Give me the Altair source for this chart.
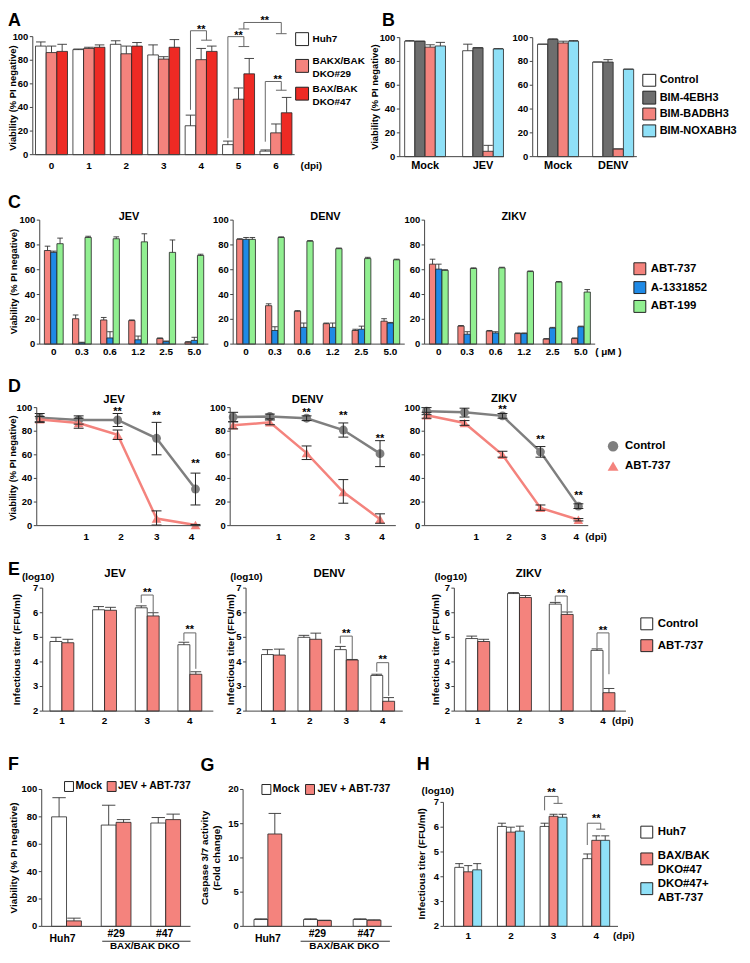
import altair as alt
import pandas as pd

FONT = "Liberation Sans"
ONE = pd.DataFrame({"k": [0]})
W, H = 740, 947
OX, OY = 8, 8

WHITE = "#ffffff"
SALMON = "#f4837d"
RED = "#ee2a24"
DGRAY = "#6e6e6e"
CYAN = "#8fe0f7"
BLUE = "#1f8ae6"
GREEN = "#91ef91"
LGRAY = "#7f7f7f"
AXC = "#444444"

# ---------------- Panel A ----------------
A_dpi = [0, 1, 2, 3, 4, 5, 6]
A_series = ["Huh7", "BAKX/BAK DKO#29", "BAX/BAK DKO#47"]
A_huh7 = [92, 89, 93.5, 84.5, 24.5, 8.5, 3]
A_huh7_err = [3.5, 0.5, 3, 8.5, 9, 3, 1]
A_dko29 = [86.5, 90, 85.5, 81, 80.5, 47, 18.5]
A_dko29_err = [5.5, 1, 6.5, 2, 9.5, 9.5, 7.5]
A_dko47 = [87.5, 91, 92, 91, 87.5, 68.5, 35.5]
A_dko47_err = [6, 2, 3, 6.5, 4.5, 13, 13]
# (left_a, left_b, y_left, right_a, right_b, y_right, y_top)
A_brackets = [(3.715, 3.715, 38, 4.0, 4.285, 97, 105),
              (4.715, 4.715, 14, 5.0, 5.285, 91.6, 100),
              (5.0, 5.285, 106.5, 6.0, 6.285, 102.5, 112),
              (5.715, 5.715, 11, 6.0, 6.285, 54.6, 62)]
A_stars = [(4.0, 108.5), (5.0, 103), (5.7, 116), (6.05, 66)]

# ---------------- Panel B ----------------
B1_cats = ["Mock", "JEV"]
B2_cats = ["Mock", "DENV"]
B_series = ["Control", "BIM-4EBH3", "BIM-BADBH3", "BIM-NOXABH3"]
B1_ctrl = [97, 89]
B1_ctrl_err = [0.5, 5.5]
B1_4e = [97, 91.5]
B1_4e_err = [0, 0]
B1_bad = [92, 4.5]
B1_bad_err = [2, 5]
B1_noxa = [93, 90.5]
B1_noxa_err = [3, 0.3]
B2_ctrl = [94.5, 79.5]
B2_ctrl_err = [0, 0]
B2_4e = [98.5, 79.5]
B2_4e_err = [0.5, 2]
B2_bad = [95.5, 6.5]
B2_bad_err = [1.5, 0]
B2_noxa = [97, 73.5]
B2_noxa_err = [0.5, 0]

# ---------------- Panel C ----------------
C_conc = ["0", "0.3", "0.6", "1.2", "2.5", "5.0"]
C_series = ["ABT-737", "A-1331852", "ABT-199"]
C_jev_737 = [75.5, 20.5, 19.5, 19, 4.5, 1.5]
C_jev_737_err = [3.5, 3, 2, 0.5, 0.5, 0.5]
C_jev_133 = [74, 1, 5, 3.5, 2, 3]
C_jev_133_err = [1, 0.5, 5, 3, 0.5, 2.5]
C_jev_199 = [81, 86, 85, 82.5, 74, 71.5]
C_jev_199_err = [4.5, 1, 1.5, 6.5, 10, 1]
C_denv_737 = [84.5, 31, 26.5, 16.5, 11, 18.5]
C_denv_737_err = [0.5, 1.5, 0.5, 0.5, 1, 2]
C_denv_133 = [84.5, 11, 13.5, 13.5, 12, 17]
C_denv_133_err = [1.5, 3, 3.5, 3.5, 2.5, 0.5]
C_denv_199 = [84.5, 86, 83, 77, 69, 68]
C_denv_199_err = [1.5, 0.5, 0.5, 0.5, 1, 0.5]
C_zikv_737 = [64.5, 14.5, 10.5, 8.5, 4, 4.5]
C_zikv_737_err = [4, 0.5, 0.5, 0.5, 0.5, 0.5]
C_zikv_133 = [60.5, 8, 9, 8.5, 13, 14]
C_zikv_133_err = [4, 2, 1, 0.5, 0.5, 0.5]
C_zikv_199 = [59.5, 61, 61.5, 58.5, 50, 42]
C_zikv_199_err = [0.5, 0.5, 0.5, 0.5, 0.5, 2]

# ---------------- Panel D ----------------
D_days = [0, 1, 2, 3, 4]
D_labels = ["1", "2", "3", "4"]
D_jev_ctrl = [91.5, 89.5, 89.5, 74, 31]
D_jev_ctrl_lo = [88, 86, 84, 60, 17.5]
D_jev_ctrl_hi = [95, 93, 95, 87.5, 44.5]
D_jev_abt = [90, 87, 77, 6, 0.5]
D_jev_abt_lo = [87.5, 82.5, 73, 0.5, 0]
D_jev_abt_hi = [92.5, 91, 81, 12.5, 1]
D_jev_stars = [(2, 98.5), (3, 95), (4, 54.5)]
D_denv_ctrl = [92, 92.5, 91, 81, 61]
D_denv_ctrl_lo = [88, 90.5, 89, 75, 50]
D_denv_ctrl_hi = [96, 94.5, 93, 87, 72]
D_denv_abt = [85, 87.5, 61.5, 28.5, 5.5]
D_denv_abt_lo = [82, 85.5, 56, 19, 2]
D_denv_abt_hi = [88, 89.5, 67.5, 39, 10]
D_denv_stars = [(2, 98), (3, 95), (4, 75.5)]
D_zikv_ctrl = [97, 96, 93, 62.5, 16.5]
D_zikv_ctrl_lo = [94, 92, 91, 58, 14.5]
D_zikv_ctrl_hi = [100, 99.5, 95, 67, 18.5]
D_zikv_abt = [93.5, 87, 60, 15, 5]
D_zikv_abt_lo = [91, 85, 58, 13, 4]
D_zikv_abt_hi = [96, 89, 63, 17.5, 6]
D_zikv_stars = [(2, 100.5), (3, 75), (4, 28)]

# ---------------- Panel E ----------------
E_dpi = [1, 2, 3, 4]
E_jev_ctrl = [4.83, 6.12, 6.2, 4.7]
E_jev_ctrl_err = [0.17, 0.13, 0.08, 0.1]
E_jev_abt = [4.78, 6.1, 5.87, 3.5]
E_jev_abt_err = [0.14, 0.12, 0.13, 0.1]
E_jev_brackets = [(2.86, 2.86, 6.4, 3.14, 3.14, 6.03, 6.72), (3.86, 3.86, 4.86, 4.14, 4.14, 3.72, 5.18)]
E_jev_stars = [(3, 6.92), (4, 5.42)]
E_denv_ctrl = [4.3, 5.0, 4.5, 3.45]
E_denv_ctrl_err = [0.2, 0.08, 0.13, 0.05]
E_denv_abt = [4.28, 4.92, 4.08, 2.4]
E_denv_abt_err = [0.24, 0.25, 0.02, 0.15]
E_denv_brackets = [(2.837, 2.837, 4.75, 3.163, 3.163, 4.12, 5.05), (3.837, 3.837, 3.6, 4.163, 4.163, 2.62, 3.97)]
E_denv_stars = [(3, 5.25), (4, 4.2)]
E_zikv_ctrl = [4.95, 6.78, 6.35, 4.47]
E_zikv_ctrl_err = [0.1, 0.04, 0.07, 0.06]
E_zikv_abt = [4.83, 6.62, 5.93, 2.75]
E_zikv_abt_err = [0.09, 0.08, 0.1, 0.17]
E_zikv_brackets = [(2.857, 2.857, 6.45, 3.143, 3.143, 6.05, 6.68), (3.857, 3.857, 4.57, 4.143, 4.143, 3.5, 5.18)]
E_zikv_stars = [(3, 6.9), (4, 5.38)]

# ---------------- Panel F / G ----------------
FG_groups = ["Huh7", "#29", "#47"]
F_mock = [80, 74, 75.5]
F_mock_err = [14, 14.5, 4]
F_jev = [4, 76, 78]
F_jev_err = [2, 2, 4]
G_mock = [1.0, 1.0, 1.0]
G_mock_err = [0.1, 0.1, 0.1]
G_jev = [13.5, 0.85, 0.9]
G_jev_err = [3, 0.05, 0.05]

# ---------------- Panel H ----------------
H_dpi = [1, 2, 3, 4]
H_huh7 = [4.38, 6.03, 6.03, 4.73]
H_huh7_err = [0.15, 0.13, 0.13, 0.19]
H_dko47 = [4.2, 5.8, 6.44, 5.47]
H_dko47_err = [0.25, 0.2, 0.08, 0.18]
H_dkoabt = [4.28, 5.84, 6.4, 5.47]
H_dkoabt_err = [0.25, 0.2, 0.12, 0.18]
H_brackets = [(2.79, 2.79, 6.68, 3.0, 3.21, 6.96, 7.24), (3.79, 3.79, 5.28, 4.0, 4.21, 5.92, 6.16)]
H_stars = [(2.95, 7.48), (4.0, 6.44)]

VIAB = "Viability (% PI negative)"
TITER = "Infectious titer (FFU/ml)"
P100 = [0, 20, 40, 60, 80, 100]
LOG = [2, 3, 4, 5, 6, 7]


# ================= helpers (positions in page pixels) =================
def T(x, y, s, size=11, align="left", angle=0, dy=0):
    kw = dict(font=FONT, fontSize=size, fontWeight="bold", align=align, baseline="middle", color="black")
    if angle:
        kw["angle"] = angle
    if dy:
        kw["dy"] = dy
    return alt.Chart(ONE).mark_text(**kw).encode(
        x=alt.value(x - OX), y=alt.value(y - OY), text=alt.value(s))


def BOX(x0, y0, x1, y1, fill):
    return alt.Chart(ONE).mark_rect(fill=fill, stroke="#222", strokeWidth=1).encode(
        x=alt.value(x0 - OX), x2=alt.value(x1 - OX), y=alt.value(y0 - OY), y2=alt.value(y1 - OY))


def HL(x0, x1, y, color="#333"):
    return alt.Chart(ONE).mark_rule(color=color, strokeWidth=1).encode(
        x=alt.value(x0 - OX), x2=alt.value(x1 - OX), y=alt.value(y - OY))


def VLN(x, y0, y1, color=AXC):
    return alt.Chart(ONE).mark_rule(color=color, strokeWidth=1).encode(
        x=alt.value(x - OX), y=alt.value(y0 - OY), y2=alt.value(y1 - OY))


def SYM(x, y, shape, color, size):
    return alt.Chart(ONE).mark_point(shape=shape, filled=True, color=color, size=size, opacity=1).encode(
        x=alt.value(x - OX), y=alt.value(y - OY))


def scales(xdom, xr, ydom, yr):
    def fx(p):
        return xdom[0] + (p - xr[0]) * (xdom[1] - xdom[0]) / (xr[1] - xr[0])

    def fy(p):
        return ydom[0] + (p - yr[0]) * (ydom[1] - ydom[0]) / (yr[1] - yr[0])

    xs = alt.Scale(domain=[fx(OX), fx(OX + W)], nice=False, zero=False)
    ys = alt.Scale(domain=[fy(OY + H), fy(OY)], nice=False, zero=False)
    return xs, ys


def axes(xs, ys, xr, yr, yticks, xticks, xlab_y, ysize=9.5, xsize=10, gap=4.5):
    layers = [HL(xr[0], xr[1], yr[0], AXC), VLN(xr[0], yr[1], yr[0])]
    tdf = pd.DataFrame({"tv": yticks, "tl": [("%g" % v) for v in yticks]})
    tc = alt.Chart(tdf)
    layers.append(tc.mark_rule(color=AXC, strokeWidth=1).encode(
        x=alt.value(xr[0] - 3 - OX), x2=alt.value(xr[0] - OX), y=alt.Y("tv:Q", scale=ys, axis=None)))
    layers.append(tc.mark_text(font=FONT, fontSize=ysize, fontWeight="bold", align="right",
                               baseline="middle", color="black").encode(
        x=alt.value(xr[0] - gap - OX), y=alt.Y("tv:Q", scale=ys, axis=None), text="tl:N"))
    if xticks:
        xdf = pd.DataFrame({"xv": [p for p, _ in xticks], "xl": [str(l) for _, l in xticks]})
        layers.append(alt.Chart(xdf).mark_text(font=FONT, fontSize=xsize, fontWeight="bold", align="center",
                                               baseline="middle", color="black").encode(
            x=alt.X("xv:Q", scale=xs, axis=None), y=alt.value(xlab_y - OY), text="xl:N"))
    return layers


def annot(xs, ys, brackets, stars):
    layers = []
    if brackets:
        segs = []
        for (la, lb, yl, ra, rb, yrr, yt) in brackets:
            xl = (la + lb) / 2
            xm = (ra + rb) / 2
            segs += [(la, yl, lb, yl), (xl, yl, xl, yt), (xl, yt, xm, yt), (xm, yt, xm, yrr), (ra, yrr, rb, yrr)]
        bdf = pd.DataFrame(segs, columns=["bx", "by", "bx2", "by2"])
        layers.append(alt.Chart(bdf).mark_rule(color="#666", strokeWidth=1).encode(
            x=alt.X("bx:Q", scale=xs, axis=None), y=alt.Y("by:Q", scale=ys, axis=None),
            x2="bx2:Q", y2="by2:Q"))
    if stars:
        sdf = pd.DataFrame(stars, columns=["sx", "sy"])
        layers.append(alt.Chart(sdf).mark_text(font=FONT, fontSize=11, fontWeight="bold", dy=3).encode(
            x=alt.X("sx:Q", scale=xs, axis=None), y=alt.Y("sy:Q", scale=ys, axis=None),
            text=alt.value("**")))
    return layers


def bar_panel(pos, series, bw, xdom, xr, ydom, yr, yticks, xticks, xlab_y,
              brackets=(), stars=(), xsize=10, extra=()):
    xs, ys = scales(xdom, xr, ydom, yr)
    base = ydom[0]
    rows = []
    n = len(series)
    for k, (vals, errs, fill) in enumerate(series):
        off = (k - (n - 1) / 2) * bw
        for p, v, e in zip(pos, vals, errs):
            c = p + off
            rows.append({"c": c, "x0": c - bw / 2, "x1": c + bw / 2, "v": v, "top": v + e,
                         "base": base, "fill": fill, "cl": c - bw * 0.45, "cr": c + bw * 0.45})
    df = pd.DataFrame(rows)
    ch = alt.Chart(df)
    layers = [
        ch.mark_bar(stroke="#222", strokeWidth=0.8).encode(
            x=alt.X("x0:Q", scale=xs, axis=None), x2="x1:Q",
            y=alt.Y("v:Q", scale=ys, axis=None), y2="base:Q",
            fill=alt.Fill("fill:N", scale=None)),
        ch.mark_rule(color="#333", strokeWidth=0.9).encode(
            x=alt.X("c:Q", scale=xs, axis=None), y=alt.Y("v:Q", scale=ys, axis=None), y2="top:Q"),
        ch.mark_rule(color="#333", strokeWidth=0.9).encode(
            x=alt.X("cl:Q", scale=xs, axis=None), x2="cr:Q", y=alt.Y("top:Q", scale=ys, axis=None)),
    ]
    layers += annot(xs, ys, brackets, stars)
    layers += axes(xs, ys, xr, yr, yticks, xticks, xlab_y, xsize=xsize)
    layers += list(extra)
    return alt.layer(*layers)


def line_panel(days, ctrl, ctrl_lo, ctrl_hi, abt, abt_lo, abt_hi, stars,
               xdom, xr, ydom, yr, xlab_px, xlab_y, extra=()):
    xs, ys = scales(xdom, xr, ydom, yr)
    upp = (xdom[1] - xdom[0]) / (xr[1] - xr[0])
    cw = 5 * upp
    rows = []
    for name, vals, lo, hi in [("Control", ctrl, ctrl_lo, ctrl_hi), ("ABT-737", abt, abt_lo, abt_hi)]:
        for d, v, l, hh in zip(days, vals, lo, hi):
            rows.append({"s": name, "d": d, "v": v, "lo": l, "hi": hh, "dl": d - cw, "dr": d + cw})
    df = pd.DataFrame(rows)
    layers = []
    for name, color, shape, size in [("Control", LGRAY, "circle", 80), ("ABT-737", SALMON, "triangle-up", 95)]:
        sub = alt.Chart(df).transform_filter(alt.datum.s == name)
        layers.append(sub.mark_line(color=color, strokeWidth=2.5).encode(
            x=alt.X("d:Q", scale=xs, axis=None), y=alt.Y("v:Q", scale=ys, axis=None)))
        layers.append(sub.mark_point(shape=shape, filled=True, size=size, color=color, opacity=1).encode(
            x=alt.X("d:Q", scale=xs, axis=None), y=alt.Y("v:Q", scale=ys, axis=None)))
    e = alt.Chart(df)
    layers.append(e.mark_rule(color="#222", strokeWidth=1).encode(
        x=alt.X("d:Q", scale=xs, axis=None), y=alt.Y("lo:Q", scale=ys, axis=None), y2="hi:Q"))
    layers.append(e.mark_rule(color="#222", strokeWidth=1).encode(
        x=alt.X("dl:Q", scale=xs, axis=None), x2="dr:Q", y=alt.Y("lo:Q", scale=ys, axis=None)))
    layers.append(e.mark_rule(color="#222", strokeWidth=1).encode(
        x=alt.X("dl:Q", scale=xs, axis=None), x2="dr:Q", y=alt.Y("hi:Q", scale=ys, axis=None)))
    layers += annot(xs, ys, (), stars)
    layers += axes(xs, ys, xr, yr, P100, None, 0)
    # the printed day labels sit slightly off the points in the original figure
    layers += [T(px, xlab_y, lab, 10, "center") for px, lab in xlab_px]
    layers += list(extra)
    return alt.layer(*layers)


panels = []

# ================= Row 1 =================
panels.append(bar_panel(A_dpi, [(A_huh7, A_huh7_err, WHITE), (A_dko29, A_dko29_err, SALMON),
                                (A_dko47, A_dko47_err, RED)],
                        0.285, (-0.5, 6.5), (33, 297), (0, 100), (152, 33), P100,
                        list(zip(A_dpi, A_dpi)), 163, brackets=A_brackets, stars=A_stars,
                        extra=[T(8, 17.5, "A", 18), T(13.5, 95, VIAB, 9.5, "center", 270),
                               BOX(298, 29, 311, 42, WHITE), T(315, 35, "Huh7", 10),
                               BOX(298, 56, 311, 69, SALMON), T(315, 58, "BAKX/BAK", 10), T(315, 71, "DKO#29", 10),
                               BOX(298, 84, 311, 97, RED), T(315, 86, "BAX/BAK", 10), T(315, 99, "DKO#47", 10),
                               T(303, 163, "(dpi)", 10)]))
panels.append(bar_panel([0, 1], [(B1_ctrl, B1_ctrl_err, WHITE), (B1_4e, B1_4e_err, DGRAY),
                                 (B1_bad, B1_bad_err, SALMON), (B1_noxa, B1_noxa_err, CYAN)],
                        0.176, (-0.436, 1.36), (403, 508), (0, 100), (154, 34), P100,
                        list(zip([0, 1], B1_cats)), 163, xsize=11,
                        extra=[T(385, 17.5, "B", 18), T(378, 94, VIAB, 9.5, "center", 270)]))
panels.append(bar_panel([0, 1], [(B2_ctrl, B2_ctrl_err, WHITE), (B2_4e, B2_4e_err, DGRAY),
                                 (B2_bad, B2_bad_err, SALMON), (B2_noxa, B2_noxa_err, CYAN)],
                        0.186, (-0.46, 1.43), (537, 642), (0, 100), (154, 34), P100,
                        list(zip([0, 1], B2_cats)), 163, xsize=11,
                        extra=[BOX(648, 71, 661, 83, WHITE), T(665, 77, "Control", 11),
                               BOX(648, 88, 661, 101, DGRAY), T(665, 94.5, "BIM-4EBH3", 11),
                               BOX(648, 105, 661, 117, SALMON), T(665, 111, "BIM-BADBH3", 11),
                               BOX(648, 122, 661, 134, CYAN), T(665, 128, "BIM-NOXABH3", 11)]))

# ================= Row 2 =================
CI = list(range(6))
CT = list(zip(CI, C_conc))
panels.append(bar_panel(CI, [(C_jev_737, C_jev_737_err, SALMON), (C_jev_133, C_jev_133_err, BLUE),
                             (C_jev_199, C_jev_199_err, GREEN)],
                        0.223, (-0.5, 5.5), (40, 210), (0, 100), (343, 218), P100, CT, 351,
                        extra=[T(8, 201, "C", 18), T(14, 280, VIAB, 9.5, "center", 270),
                               T(130, 215, "JEV", 11, "center")]))
panels.append(bar_panel(CI, [(C_denv_737, C_denv_737_err, SALMON), (C_denv_133, C_denv_133_err, BLUE),
                             (C_denv_199, C_denv_199_err, GREEN)],
                        0.217, (-0.447, 5.5), (235, 408), (0, 100), (343, 218), P100, CT, 351,
                        extra=[T(328, 215, "DENV", 11, "center")]))
panels.append(bar_panel(CI, [(C_zikv_737, C_zikv_737_err, SALMON), (C_zikv_133, C_zikv_133_err, BLUE),
                             (C_zikv_199, C_zikv_199_err, GREEN)],
                        0.22, (-0.5, 5.5), (428, 600), (0, 100), (343, 218), P100, CT, 351,
                        extra=[T(518, 215, "ZIKV", 11, "center"), T(600, 351, "( μM )", 10),
                               BOX(639, 261, 651, 273, SALMON), T(656, 267, "ABT-737", 11.5),
                               BOX(639, 280, 651, 292, BLUE), T(656, 286, "A-1331852", 11.5),
                               BOX(639, 299, 651, 311, GREEN), T(656, 305, "ABT-199", 11.5)]))

# ================= Row 3 =================
panels.append(line_panel(D_days, D_jev_ctrl, D_jev_ctrl_lo, D_jev_ctrl_hi, D_jev_abt, D_jev_abt_lo, D_jev_abt_hi,
                         D_jev_stars, (-0.076, 4.127), (37, 202), (0, 100), (526, 407),
                         list(zip([87, 122, 158, 193], D_labels)), 537,
                         extra=[T(8, 386, "D", 18), T(13.5, 468, VIAB, 9.5, "center", 270),
                                T(115, 399, "JEV", 11.5, "center")]))
panels.append(line_panel(D_days, D_denv_ctrl, D_denv_ctrl_lo, D_denv_ctrl_hi, D_denv_abt, D_denv_abt_lo, D_denv_abt_hi,
                         D_denv_stars, (-0.081, 4.43), (232, 399), (0, 100), (526, 407),
                         list(zip([281, 315, 350, 385], D_labels)), 537,
                         extra=[T(310, 399, "DENV", 11.5, "center")]))
panels.append(line_panel(D_days, D_zikv_ctrl, D_zikv_ctrl_lo, D_zikv_ctrl_hi, D_zikv_abt, D_zikv_abt_lo, D_zikv_abt_hi,
                         D_zikv_stars, (-0.052, 4.26), (428, 593), (0, 100), (526, 407),
                         list(zip([480, 513, 548, 581], D_labels)), 537,
                         extra=[T(508, 398, "ZIKV", 11.5, "center"), T(590, 537, "(dpi)", 10),
                                SYM(618, 446, "circle", LGRAY, 110), T(630, 446, "Control", 11.5),
                                SYM(618, 466, "triangle-up", SALMON, 120), T(630, 466, "ABT-737", 11.5)]))

# ================= Row 4 =================
ET = list(zip(E_dpi, E_dpi))
panels.append(bar_panel(E_dpi, [(E_jev_ctrl, E_jev_ctrl_err, WHITE), (E_jev_abt, E_jev_abt_err, SALMON)],
                        0.28, (0.55, 4.55), (43, 215), (2, 7), (713, 589), LOG, ET, 723,
                        brackets=E_jev_brackets, stars=E_jev_stars,
                        extra=[T(8, 571, "E", 18), T(22, 578, "(log10)", 10), T(17, 651, TITER, 10, "center", 270),
                               T(116, 575, "JEV", 11.5, "center")]))
panels.append(bar_panel(E_dpi, [(E_denv_ctrl, E_denv_ctrl_err, WHITE), (E_denv_abt, E_denv_abt_err, SALMON)],
                        0.326, (0.25, 4.55), (248, 406), (2, 7), (713, 589), LOG, ET, 723,
                        brackets=E_denv_brackets, stars=E_denv_stars,
                        extra=[T(232, 578, "(log10)", 10), T(233, 651, TITER, 10, "center", 270),
                               T(332, 575, "DENV", 11.5, "center")]))
panels.append(bar_panel(E_dpi, [(E_zikv_ctrl, E_zikv_ctrl_err, WHITE), (E_zikv_abt, E_zikv_abt_err, SALMON)],
                        0.286, (0.44, 4.55), (458, 631), (2, 7), (713, 589), LOG, ET, 723,
                        brackets=E_zikv_brackets, stars=E_zikv_stars,
                        extra=[T(438, 578, "(log10)", 10), T(440, 651, TITER, 10, "center", 270),
                               T(533, 575, "ZIKV", 11.5, "center"), T(617, 723, "(dpi)", 10),
                               BOX(646, 619, 658, 631, WHITE), T(663, 625, "Control", 11.5),
                               BOX(646, 641, 658, 653, SALMON), T(663, 647, "ABT-737", 11.5)]))

# ================= Row 5 =================
FGI = [0, 1, 2]
panels.append(bar_panel(FGI, [(F_mock, F_mock_err, WHITE), (F_jev, F_jev_err, SALMON)],
                        0.3, (-0.5, 2.5), (42, 192), (0, 100), (930, 792), P100, None, 0,
                        extra=[T(8, 767, "F", 18), T(14, 861, VIAB, 10, "center", 270),
                               BOX(65, 784, 74, 794, WHITE), T(76, 789, "Mock", 10.5),
                               BOX(108, 784, 117, 794, SALMON), T(119, 789, "JEV + ABT-737", 10.5),
                               T(63, 943, FG_groups[0], 10.5, "center"),
                               T(117, 938, FG_groups[1], 10.5, "center"),
                               T(166, 938, FG_groups[2], 10.5, "center"),
                               HL(103, 192, 945), T(146, 950, "BAX/BAK DKO", 10, "center")]))
panels.append(bar_panel(FGI, [(G_mock, G_mock_err, WHITE), (G_jev, G_jev_err, SALMON)],
                        0.28, (-0.5, 2.5), (245, 395), (0, 20), (930, 792), [0, 5, 10, 15, 20], None, 0,
                        extra=[T(202, 768, "G", 18),
                               T(207, 861, "Caspase 3/7 activity", 10, "center", 270),
                               T(219, 861, "(Fold change)", 10, "center", 270),
                               BOX(264, 787, 273, 797, WHITE), T(275, 792, "Mock", 10.5),
                               BOX(308, 787, 317, 797, SALMON), T(320, 792, "JEV + ABT-737", 10.5),
                               T(270, 943, FG_groups[0], 10.5, "center"),
                               T(320, 938, FG_groups[1], 10.5, "center"),
                               T(369, 938, FG_groups[2], 10.5, "center"),
                               HL(303, 393, 945), T(347, 950, "BAX/BAK DKO", 10, "center")]))
panels.append(bar_panel(H_dpi, [(H_huh7, H_huh7_err, WHITE), (H_dko47, H_dko47_err, SALMON),
                                (H_dkoabt, H_dkoabt_err, CYAN)],
                        0.21, (0.42, 4.51), (447, 623), (2, 7), (930, 805), LOG, list(zip(H_dpi, H_dpi)), 940,
                        brackets=H_brackets, stars=H_stars,
                        extra=[T(420, 767, "H", 18), T(425, 794, "(log10)", 10),
                               T(425, 867, TITER, 10, "center", 270), T(618, 940, "(dpi)", 10),
                               BOX(646, 829, 658, 841, WHITE), T(663, 835, "Huh7", 11.5),
                               BOX(646, 856, 658, 868, SALMON), T(663, 859, "BAX/BAK", 11.5),
                               T(663, 873, "DKO#47", 11.5),
                               BOX(646, 886, 658, 898, CYAN), T(663, 887, "DKO#47+", 11.5),
                               T(663, 901, "ABT-737", 11.5)]))

chart = alt.layer(*panels).resolve_scale(x="independent", y="independent").properties(
    width=W, height=H, padding=0, background="white",
    autosize=alt.AutoSizeParams(type="none")
).configure_view(stroke=None)

chart.save("out.html", embed_options={"renderer": "svg", "actions": False})
